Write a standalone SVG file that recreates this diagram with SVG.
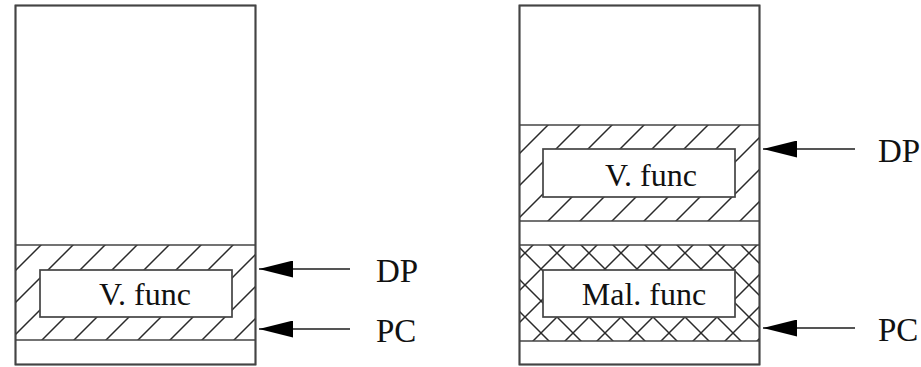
<svg xmlns="http://www.w3.org/2000/svg" width="921" height="367" viewBox="0 0 921 367">
<style>
.box{fill:#fff;stroke:#444;stroke-width:1.7}
.sep{stroke:#444;stroke-width:1.7;fill:none}
.inner{fill:#fff;stroke:#444;stroke-width:1.7}
.hl{stroke:#2a2a2a;stroke-width:1.5;fill:none}
.lbl{font-family:"Liberation Serif","Times New Roman",serif;font-size:32px;fill:#111}
.ptr{font-family:"Liberation Serif","Times New Roman",serif;font-size:33px;fill:#111}
.arr{stroke:#555;stroke-width:2;fill:none;marker-end:url(#ah)}
</style>
<defs>
<pattern id="hatchA" patternUnits="userSpaceOnUse" x="30" y="0" width="32" height="32">
<path class="hl" d="M-8,8 L8,-8 M0,32 L32,0 M24,40 L40,24"/>
</pattern>
<pattern id="hatchB" patternUnits="userSpaceOnUse" x="1" y="0" width="32" height="32">
<path class="hl" d="M-8,8 L8,-8 M0,32 L32,0 M24,40 L40,24"/>
</pattern>
<pattern id="cross" patternUnits="userSpaceOnUse" x="13" y="-3" width="32" height="32">
<path class="hl" d="M-8,8 L8,-8 M0,32 L32,0 M24,40 L40,24 M0,0 L32,32 M-8,24 L8,40 M24,-8 L40,8"/>
</pattern>
<marker id="ah" markerUnits="userSpaceOnUse" viewBox="0 0 34 17" refX="34" refY="8.5" markerWidth="34" markerHeight="17" orient="auto">
<path d="M0,0 L34,8.5 L0,17 z" fill="#000"/>
</marker>
</defs>

<g id="stack-left">
<rect class="box" x="15.5" y="5.5" width="240" height="359"/>
<rect x="15.5" y="245" width="240" height="95" fill="url(#hatchA)"/>
<line class="sep" x1="15.5" y1="245" x2="255.5" y2="245"/>
<line class="sep" x1="15.5" y1="340" x2="255.5" y2="340"/>
<rect class="box" x="15.5" y="5.5" width="240" height="359" style="fill:none"/>
</g>
<g id="vfunc-left">
<rect class="inner" x="40" y="270" width="192" height="47"/>
<text class="lbl" x="145" y="305" text-anchor="middle">V. func</text>
</g>

<g id="stack-right">
<rect class="box" x="519.5" y="5.5" width="240" height="359"/>
<rect x="519.5" y="125" width="240" height="96" fill="url(#hatchB)"/>
<line class="sep" x1="519.5" y1="125" x2="759.5" y2="125"/>
<line class="sep" x1="519.5" y1="221" x2="759.5" y2="221"/>
<rect x="519.5" y="245" width="240" height="96" fill="url(#cross)"/>
<line class="sep" x1="519.5" y1="245" x2="759.5" y2="245"/>
<line class="sep" x1="519.5" y1="341" x2="759.5" y2="341"/>
<rect class="box" x="519.5" y="5.5" width="240" height="359" style="fill:none"/>
</g>
<g id="vfunc-right">
<rect class="inner" x="543" y="149" width="192" height="48"/>
<text class="lbl" x="651" y="186" text-anchor="middle">V. func</text>
</g>
<g id="malfunc">
<rect class="inner" x="543" y="270" width="192" height="47"/>
<text class="lbl" x="644" y="305" text-anchor="middle">Mal. func</text>
</g>

<g id="label-dp-left"><text class="ptr" x="376" y="282">DP</text></g>
<g id="label-pc-left"><text class="ptr" x="376" y="342">PC</text></g>
<g id="label-dp-right"><text class="ptr" x="878" y="162">DP</text></g>
<g id="label-pc-right"><text class="ptr" x="878" y="341">PC</text></g>

<g id="connectors">
<line class="arr" x1="350" y1="269" x2="259" y2="269"/>
<line class="arr" x1="350" y1="329" x2="259" y2="329"/>
<line class="arr" x1="855" y1="149" x2="763" y2="149"/>
<line class="arr" x1="855" y1="328" x2="763" y2="328"/>
</g>
</svg>
